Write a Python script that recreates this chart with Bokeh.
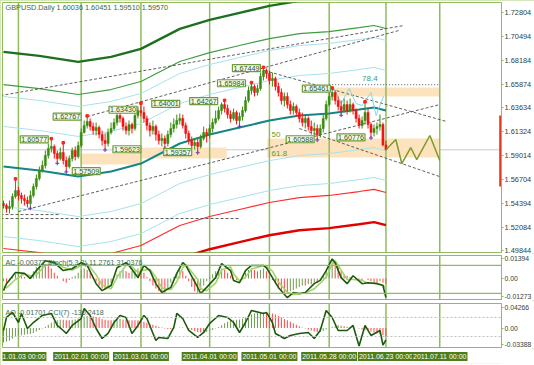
import numpy as np
from bokeh.plotting import figure
from bokeh.layouts import column
from bokeh.models import (Range1d, FixedTicker, PrintfTickFormatter, Span, Label,
                          ColumnDataSource)
from bokeh.embed import file_html
from bokeh.resources import INLINE

# ------------------------------------------------------------------ data
title_text = "GBPUSD.Daily 1.60036 1.60451 1.59510 1.59570"
first_open = 1.5440
close = [
    1.5420, 1.5391, 1.5410, 1.5507, 1.5564, 1.5516, 1.5487, 1.5468, 1.5439, 1.5516,
    1.5603, 1.5680, 1.5757, 1.5805, 1.5902, 1.5969, 1.5989, 1.5921, 1.5873, 1.5931,
    1.5854, 1.5796, 1.5873, 1.5950, 1.5892, 1.5998, 1.6124, 1.6191, 1.6230, 1.6181,
    1.6143, 1.6172, 1.6104, 1.6046, 1.6018, 1.6124, 1.6162, 1.6220, 1.6287, 1.6259,
    1.6181, 1.6143, 1.6201, 1.6162, 1.6287, 1.6336, 1.6316, 1.6259, 1.6191, 1.6143,
    1.6181, 1.6104, 1.6046, 1.6066, 1.6018, 1.6104, 1.6162, 1.6201, 1.6239, 1.6259,
    1.6191, 1.6114, 1.6046, 1.5998, 1.6027, 1.5989, 1.6066, 1.6124, 1.6104, 1.6162,
    1.6220, 1.6259, 1.6336, 1.6393, 1.6355, 1.6297, 1.6259, 1.6316, 1.6239, 1.6278,
    1.6336, 1.6432, 1.6528, 1.6567, 1.6509, 1.6548, 1.6663, 1.6721, 1.6692, 1.6625,
    1.6644, 1.6567, 1.6509, 1.6432, 1.6471, 1.6393, 1.6336, 1.6374, 1.6316, 1.6259,
    1.6220, 1.6259, 1.6181, 1.6143, 1.6162, 1.6104, 1.6162, 1.6259, 1.6393, 1.6471,
    1.6509, 1.6432, 1.6374, 1.6336, 1.6393, 1.6336, 1.6393, 1.6336, 1.6259, 1.6191,
    1.6239, 1.6316, 1.6201, 1.6124, 1.6162, 1.6181, 1.6201, 1.6004, 1.5957]
high = [
    1.5468, 1.5439, 1.5468, 1.5536, 1.5670, 1.5603, 1.5545, 1.5526, 1.5507, 1.5564,
    1.5632, 1.5719, 1.5796, 1.5854, 1.5950, 1.6018, 1.6058, 1.6008, 1.5950, 1.5979,
    1.6018, 1.5892, 1.5902, 1.5979, 1.5989, 1.6037, 1.6162, 1.6239, 1.6277, 1.6259,
    1.6220, 1.6220, 1.6191, 1.6143, 1.6114, 1.6162, 1.6220, 1.6259, 1.6316, 1.6343,
    1.6278, 1.6220, 1.6239, 1.6220, 1.6336, 1.6374, 1.6400, 1.6374, 1.6287, 1.6220,
    1.6239, 1.6201, 1.6143, 1.6114, 1.6095, 1.6143, 1.6220, 1.6259, 1.6297, 1.6307,
    1.6297, 1.6220, 1.6143, 1.6085, 1.6066, 1.6066, 1.6104, 1.6181, 1.6162, 1.6201,
    1.6259, 1.6336, 1.6374, 1.6413, 1.6427, 1.6393, 1.6336, 1.6355, 1.6336, 1.6316,
    1.6374, 1.6471, 1.6567, 1.6598, 1.6586, 1.6586, 1.6702, 1.6745, 1.6741, 1.6721,
    1.6702, 1.6663, 1.6606, 1.6548, 1.6509, 1.6509, 1.6432, 1.6413, 1.6393, 1.6355,
    1.6316, 1.6297, 1.6278, 1.6239, 1.6220, 1.6201, 1.6201, 1.6297, 1.6432, 1.6509,
    1.6546, 1.6528, 1.6471, 1.6432, 1.6451, 1.6432, 1.6451, 1.6413, 1.6355, 1.6297,
    1.6278, 1.6413, 1.6355, 1.6220, 1.6201, 1.6220, 1.6297, 1.6220, 1.6045]
low = [
    1.5391, 1.5352, 1.5343, 1.5381, 1.5487, 1.5468, 1.5439, 1.5420, 1.5401, 1.5401,
    1.5497, 1.5574, 1.5661, 1.5738, 1.5777, 1.5873, 1.5931, 1.5873, 1.5834, 1.5854,
    1.5815, 1.5751, 1.5777, 1.5844, 1.5854, 1.5873, 1.5979, 1.6114, 1.6162, 1.6143,
    1.6104, 1.6095, 1.6066, 1.5998, 1.5962, 1.5989, 1.6104, 1.6143, 1.6191, 1.6220,
    1.6143, 1.6104, 1.6095, 1.6114, 1.6143, 1.6259, 1.6278, 1.6220, 1.6143, 1.6085,
    1.6104, 1.6046, 1.6008, 1.5989, 1.5979, 1.5989, 1.6075, 1.6124, 1.6162, 1.6201,
    1.6162, 1.6066, 1.6008, 1.5969, 1.5960, 1.5936, 1.5969, 1.6046, 1.6027, 1.6066,
    1.6124, 1.6201, 1.6239, 1.6297, 1.6316, 1.6259, 1.6220, 1.6239, 1.6201, 1.6191,
    1.6239, 1.6316, 1.6413, 1.6490, 1.6471, 1.6480, 1.6528, 1.6625, 1.6644, 1.6586,
    1.6567, 1.6528, 1.6471, 1.6393, 1.6374, 1.6355, 1.6297, 1.6297, 1.6278, 1.6220,
    1.6181, 1.6162, 1.6143, 1.6104, 1.6085, 1.6059, 1.6075, 1.6124, 1.6239, 1.6374,
    1.6432, 1.6393, 1.6336, 1.6297, 1.6316, 1.6297, 1.6316, 1.6297, 1.6220, 1.6162,
    1.6162, 1.6201, 1.6162, 1.6078, 1.6085, 1.6104, 1.6143, 1.5990, 1.5951]

# moving average / band centre (sampled) and band half-widths
band_idx = [0, 12, 25, 36, 46, 59, 69, 79, 89, 99, 109, 119, 124, 128]
band_mid = [1.5796, 1.5757, 1.5700, 1.5748, 1.5825, 1.6018, 1.6104, 1.6172,
            1.6239, 1.6287, 1.6307, 1.6345, 1.6365, 1.6336]
band_offsets = [0.0386, 0.0675, 0.0790, 0.1105]

# trend lines (bar index, price)
trend_x0 = [-1, 28, 5, 87.3, 99, -1, -1]
trend_y0 = [1.6480, 1.6277, 1.5362, 1.6721, 1.6162, 1.5295, 1.5333]
trend_x1 = [134, 132.3, 146, 148.3, 146, 79, 19]
trend_y1 = [1.7155, 1.7107, 1.6393, 1.6230, 1.5699, 1.5295, 1.5333]
level_dot = (109, 146, 1.6586)

# supply/demand zones: left, right, top, bottom
zone_l = [25.7, 42.3, 88.3, 110.7]
zone_r = [45.7, 74.7, 146, 146]
zone_t = [1.5921, 1.5979, 1.6066, 1.6557]
zone_b = [1.5815, 1.5873, 1.5883, 1.6471]

fib_text = ["50", "61.8", "78.4"]
fib_idx = [89.7, 89.7, 120]
fib_price = [1.6105, 1.5921, 1.6644]

zz_x = [128, 131.3, 133.3, 136.3, 138.3, 142.7, 146]
zz_y = [1.5957, 1.6056, 1.5825, 1.5979, 1.5863, 1.6095, 1.5854]
cz_x = [110.7, 113, 115.7, 118, 120, 123, 124.7, 127.3]
cz_y = [1.6548, 1.6403, 1.6548, 1.6403, 1.6384, 1.6509, 1.6287, 1.6480]

box_vals = [1.60577, 1.62767, 1.59623, 1.57509, 1.63430, 1.64001, 1.59357,
            1.64267, 1.65984, 1.67449, 1.65461, 1.60588, 1.60776]
box_idx = [10.3, 21.3, 41.3, 27.7, 40, 54.3, 58.3, 67, 76.3, 81.3, 104.7, 99.3, 116.3]
hi_marks = [4, 16, 20, 28, 39, 46, 74, 83, 87, 110, 121]
lo_marks = [9, 18, 21, 34, 54, 65, 79, 105, 113, 123]

range_bar = (1.6287, 1.5603)
last_price = 1.5957
price_ticks = [1.72804, 1.70494, 1.68184, 1.65874, 1.63634, 1.61324, 1.59014,
               1.56704, 1.54394, 1.52084, 1.49844]

date_idx = [5, 26, 46, 69, 89, 109, 128, 146]
date_text = ["2011.01.03 00:00", "2011.02.01 00:00", "2011.03.01 00:00",
             "2011.04.01 00:00", "2011.05.01 00:00", "2011.05.28 00:00",
             "2011.06.23 00:00", "2011.07.11 00:00"]

# AC (x1e-3) per bar
ac_milli = [-2, -3, -2, 1, 3, 4, 3, 1, 0, 2,
            5, 8, 10, 11, 10, 9, 7, 4, 2, 0, -2, -3,
            -1, 1, 2, 4, 6, 7, 6, 4, 1, -2, -5, -7, -8,
            -6, -3, 0, 3, 5, 6, 5, 4, 5, 6, 7, 6,
            4, 1, -2, -5, -7, -9, -10, -10, -7, -3, 1, 4, 6, 5,
            2, -2, -6, -9, -10, -8, -5, -2, 1, 3, 5, 6, 7, 6,
            4, 2, 0, -1, 0, 2, 4, 6, 7, 6, 5, 6, 7, 5,
            2, -1, -4, -7, -9, -10, -10, -9,
            -8, -7, -6, -5, -5, -4, -4, -3, -3,
            -1, 2, 6, 10, 12, 12, 9, 5, 3, 2, 1, 0, -1, -2, -2,
            0, -1, -2, -3, -3, -2, -3, -3.7]
st_idx = [0, 1, 4, 7, 9, 11, 14, 17, 20, 23, 26, 28, 31, 33, 36, 38, 41, 42, 45, 47,
          49, 51, 53, 56, 58, 60, 61, 65, 66, 68, 71, 73, 76, 77, 79, 81, 83, 87, 88, 90,
          92, 95, 97, 99, 101, 104, 106, 108, 110, 111, 113, 115, 117, 120, 122, 125, 127, 128]
st_main = [26, 41, 65, 63, 52, 69, 90, 86, 69, 73, 86, 80, 41, 26, 37, 75, 86, 80, 54, 80,
           69, 41, 22, 33, 63, 86, 80, 33, 20, 33, 54, 84, 69, 48, 43, 69, 80, 80, 75, 54,
           33, 11, 22, 20, 22, 41, 48, 69, 94, 86, 54, 41, 58, 41, 43, 41, 37, 11.28]
st_sig = [35, 32, 50, 62, 58, 60, 80, 88, 76, 70, 80, 84, 60, 38, 30, 55, 80, 83, 65, 70,
          72, 55, 32, 28, 45, 75, 82, 50, 30, 26, 42, 70, 77, 62, 47, 55, 72, 80, 78, 68,
          45, 22, 18, 19, 21, 30, 42, 55, 82, 90, 70, 50, 50, 48, 42, 42, 38, 31.04]
# AO (x1e-3) per bar
ao_milli = [-30, -28, -26, -22, -18, -16, -15, -14, -13, -12, -10, -7, -4,
            -1, 3, 7, 11, 14, 16, 17, 17, 16, 16, 17, 18, 20, 22, 24,
            25, 25, 24, 23, 21, 19, 17, 16, 16, 17, 18, 19, 18, 17, 16,
            16, 16, 16, 15, 13, 11, 9, 7, 5, 3, 1, -1, -2, -2, -1, 0,
            1, 1, 0, -2, -4, -6, -8, -9, -9, -8, -6, -4, -1, 2, 6, 10,
            13, 15, 16, 17, 18, 20, 22, 25, 28, 30, 31, 32, 33, 33, 32, 30,
            28, 25, 22, 19, 16, 13, 10, 7, 4, 1, -1, -3, -5, -7, -8, -8,
            -6, -3, 0, 3, 5, 6, 5, 4, 3, 2, 1, 0, -1, -3, -4, -5,
            -7, -9, -11, -13, -15, -17]
cci_idx = [0, 1, 3, 5, 6, 8, 10, 13, 16, 18, 20, 21, 23, 26, 27, 29, 31, 33, 35, 37,
           39, 41, 43, 45, 47, 48, 51, 52, 55, 57, 58, 60, 62, 65, 67, 69, 72, 75, 77, 79,
           81, 83, 87, 88, 90, 91, 94, 96, 99, 102, 104, 106, 108, 110, 112, 115, 117, 119,
           121, 123, 126, 127, 128]
cci_val = [-37, 100, 153, 47, 142, -16, 47, 121, 142, 16, -37, -68, 16, 89, 195, 121, -16,
           -121, -68, 47, 121, 100, -68, 16, 121, 89, -142, -110, -121, -5, 142, 89, -37,
           -110, -58, 37, 121, 100, 47, -58, 47, 174, 142, 153, 47, -68, -121, -89, -68,
           -58, -121, -37, 174, 100, -37, -37, 16, -200, 16, -89, -37, -190, -136.24]
ac_label = "AC -0.00372  Stoch(5,3,3) 11.2761 31.0376"
ao_label = "AO -0.01701  CCI(7) -136.2418"

# ------------------------------------------------------------------ style
FONT = "Liberation Sans"
GRID = "#8dbd5c"
AXTXT = "#34423a"
BULL = "#3a8c12"
BEAR = "#f21515"
DASH = "#4d4d4d"
W = 534

xr = Range1d(-0.333, 166.67)


def base_fig(h, yr, top, bottom, axis=True, fs="7px"):
    p = figure(width=W, height=h, x_range=xr, y_range=yr,
               output_backend="svg", toolbar_location=None,
               x_axis_location=None, y_axis_location=("right" if axis else None),
               min_border_left=2, min_border_right=31,
               min_border_top=top, min_border_bottom=bottom,
               background_fill_color="white", border_fill_color="white")
    p.grid.visible = False
    p.outline_line_color = GRID
    p.outline_line_width = 1
    if axis:
        ax = p.yaxis[0]
        ax.minor_tick_line_color = None
        ax.major_tick_in = 0
        ax.major_tick_out = 2
        ax.major_tick_line_color = GRID
        ax.axis_line_color = GRID
        ax.major_label_standoff = 1
        ax.major_label_text_font = FONT
        ax.major_label_text_font_size = fs
        ax.major_label_text_color = AXTXT
    return p


def vgrid(p, y0, y1):
    p.segment(x0=date_idx, x1=date_idx, y0=[y0] * len(date_idx), y1=[y1] * len(date_idx),
              line_color=GRID, line_width=1.5)


# ------------------------------------------------------------------ main panel
yr_main = Range1d(1.49674, 1.73768)
pm = base_fig(253, yr_main, 2, 1, fs="7.4px")
pm.yaxis[0].ticker = FixedTicker(ticks=price_ticks)
pm.yaxis[0].formatter = PrintfTickFormatter(format="%.5f")

pm.quad(left=zone_l, right=zone_r, top=zone_t, bottom=zone_b,
        fill_color="#fde3bd", line_color=None)
pm.add_layout(Span(location=last_price, dimension="width", line_color="#c9c9c9",
                   line_width=1, level="underlay"))
vgrid(pm, yr_main.start, yr_main.end)

band_colors_up = ["#a8e2ea", "#a8e2ea", "#3e9e3e", "#1e701e"]
band_colors_dn = ["#a8e2ea", "#a8e2ea", "#ff2b2b", "#e20000"]
band_widths = [1, 1, 1.2, 2.4]
for off, cu, cd, w in zip(band_offsets, band_colors_up, band_colors_dn, band_widths):
    pm.line(band_idx, [m + off for m in band_mid], line_color=cu, line_width=w)
    pm.line(band_idx, [m - off for m in band_mid], line_color=cd, line_width=w)
pm.line(band_idx, band_mid, line_color="#178585", line_width=2)

pm.segment(x0=trend_x0, y0=trend_y0, x1=trend_x1, y1=trend_y1,
           line_color=DASH, line_dash="3 2", line_width=0.9)
pm.segment(x0=[level_dot[0]], x1=[level_dot[1]], y0=[level_dot[2]], y1=[level_dot[2]],
           line_color="#777777", line_dash="1 2", line_width=1.2)
pm.line(cz_x, cz_y, line_color="#86d8e8", line_width=1)

n = len(close)
idx = list(range(n))
opens = [first_open] + close[:-1]
cols = [BULL if c >= o else BEAR for o, c in zip(opens, close)]
src = ColumnDataSource(dict(x=idx, h=high, l=low,
                            top=[max(o, c) for o, c in zip(opens, close)],
                            bot=[min(o, c) for o, c in zip(opens, close)], col=cols))
pm.segment(x0="x", y0="l", x1="x", y1="h", line_color="col", line_width=1, source=src)
pm.vbar(x="x", width=0.7, top="top", bottom="bot", fill_color="col", line_color="col",
        line_width=0.5, source=src)
pm.scatter([i for i in hi_marks], [high[i] + 0.0007 for i in hi_marks], marker="square",
           size=2.5, color="#ff2020")
pm.scatter([i for i in lo_marks], [low[i] - 0.0007 for i in lo_marks], marker="cross",
           size=4, line_color="#6a35c0", line_width=1)

pm.line(zz_x, zz_y, line_color="#7a9c28", line_width=1.5)
pm.quad(left=[165.9], right=[166.67], top=[range_bar[0]], bottom=[range_bar[1]],
        fill_color="#e23a22", line_color=None)

for t, xi, yv in zip(fib_text, fib_idx, fib_price):
    pm.add_layout(Label(x=xi, y=yv, text=t, text_align="left", text_baseline="middle",
                        text_font=FONT, text_font_size="8px",
                        text_color=("#3c9c72" if t == "78.4" else "#5f9a2a")))
for v, xi in zip(box_vals, box_idx):
    pm.add_layout(Label(x=xi, y=v, text=f"{v:.5f}", text_align="center",
                        text_baseline="middle", text_font=FONT, text_font_size="7.2px",
                        text_color="#2e5520", background_fill_color="#f4f9ea",
                        border_line_color="#6c9c3a", border_line_width=1.2, padding=1))
pm.add_layout(Label(x=0.67, y=1.73286, text=title_text, text_align="left",
                    text_baseline="middle", text_font=FONT, text_font_size="7.3px",
                    text_color="#3d6a3d"))
pm.add_layout(Label(x=167.33, y=last_price, text="1.59570", text_align="left",
                    text_baseline="middle", text_font=FONT, text_font_size="7.2px",
                    text_color="white", background_fill_color="#4c8a12", padding=1))

# ------------------------------------------------------------------ AC + Stoch
yr_ac = Range1d(-0.01474, 0.01614)
p1 = base_fig(47, yr_ac, 2, 1, fs="6.8px")
p1.extra_y_ranges = {"st": Range1d(7.1, 101.3)}
p1.yaxis[0].ticker = FixedTicker(ticks=[0.01394, 0.0, -0.01273])
p1.yaxis[0].formatter = PrintfTickFormatter(format="%.5f")
p1.yaxis[0].major_label_overrides = {0.0: "0.00"}
vgrid(p1, yr_ac.start, yr_ac.end)
for lv in (80, 20):
    p1.add_layout(Span(location=lv, dimension="width", y_range_name="st",
                       line_color=GRID, line_width=1.2))
ac = [v / 1000.0 for v in ac_milli]
ac_col = ["#6f9f50"] + ["#6f9f50" if ac[i] > ac[i - 1] else "#ff4545" for i in range(1, n)]
p1.vbar(x=idx, top=ac, bottom=0, width=0.34, fill_color=ac_col, line_color=None)
p1.line(st_idx, st_sig, y_range_name="st", line_color="#a6d46a", line_width=1.6)
p1.line(st_idx, st_main, y_range_name="st", line_color="#1c5a0c", line_width=1.6)
for lv in (80, 20):
    p1.add_layout(Label(x=167.33, y=lv, y_range_name="st", text=str(lv), text_align="left",
                        text_baseline="middle", text_font=FONT, text_font_size="7px",
                        text_color="white", background_fill_color="#5a9418", padding=1))
p1.add_layout(Label(x=0.67, y=0.0112, text=ac_label, text_align="left",
                    text_baseline="middle", text_font=FONT, text_font_size="7.2px",
                    text_color="#3d6a55"))

# ------------------------------------------------------------------ AO + CCI
yr_ao = Range1d(-0.0402, 0.0509)
p2 = base_fig(48, yr_ao, 3, 1, fs="6.8px")
p2.extra_y_ranges = {"cci": Range1d(-216, 247)}
p2.yaxis[0].ticker = FixedTicker(ticks=[0.04266, 0.0, -0.03388])
p2.yaxis[0].formatter = PrintfTickFormatter(format="%.5f")
p2.yaxis[0].major_label_overrides = {0.0: "0.00"}
vgrid(p2, yr_ao.start, yr_ao.end)
for lv in (100, -100):
    p2.add_layout(Span(location=lv, dimension="width", y_range_name="cci",
                       line_color="#bdbdbd", line_dash="2 2", line_width=1))
ao = [v / 1000.0 for v in ao_milli]
ao_col = ["#ff4545"] + ["#6f9f50" if ao[i] > ao[i - 1] else "#ff4545" for i in range(1, n)]
p2.vbar(x=idx, top=ao, bottom=0, width=0.34, fill_color=ao_col, line_color=None)
p2.line(cci_idx, cci_val, y_range_name="cci", line_color="#1c5a0c", line_width=1.6)
for lv in (100, -100):
    p2.add_layout(Label(x=167.33, y=lv, y_range_name="cci", text=str(lv), text_align="left",
                        text_baseline="middle", text_font=FONT, text_font_size="6.8px",
                        text_color=AXTXT))
p2.add_layout(Label(x=0.67, y=0.0323, text=ao_label, text_align="left",
                    text_baseline="middle", text_font=FONT, text_font_size="7.2px",
                    text_color="#3d6a55"))

# ------------------------------------------------------------------ date strip
ps = base_fig(17, Range1d(0, 1), 1, 2, axis=False)
ps.outline_line_color = None
for xi, t in zip(date_idx, date_text):
    ps.add_layout(Label(x=xi, y=0.5, text=t, text_align="center", text_baseline="middle",
                        text_font=FONT, text_font_size="7px", text_color="white",
                        background_fill_color="#4f7d17", padding=1))

layout = column(pm, p1, p2, ps, spacing=0,
                styles={"outline": "2px solid #cadfa4", "outline-offset": "-2px"})
open("out.html", "w").write(file_html(layout, INLINE))
